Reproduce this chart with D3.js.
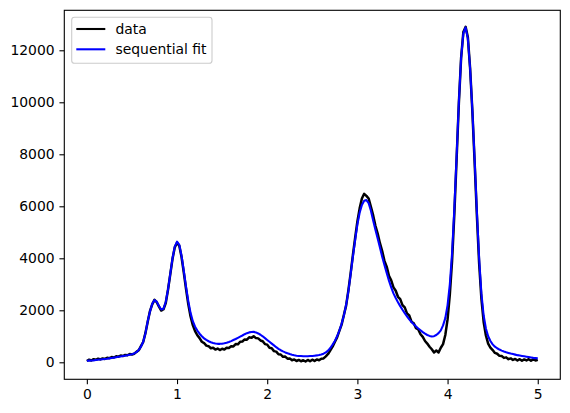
<!DOCTYPE html>
<html>
<head>
<meta charset="utf-8">
<script src="https://cdn.jsdelivr.net/npm/d3@7"></script>
<style>
body { margin:0; background:#fff; }
text { font-family:"DejaVu Sans", sans-serif; }
</style>
</head>
<body>
<script>
// x positions shared by both series (step 0.025, 0 to 5)
const xValues = d3.range(201).map(function(i){ return +(i*0.025).toFixed(3); });

const dataValues = [
50,100,70,120,95,140,110,150,130,175,160,200,185,230,215,260,240,285,270,320,
300,330,400,460,620,780,1130,1560,1970,2230,2400,2310,2140,1990,2040,2280,2790,3380,3980,4420,
4600,4480,4050,3450,2820,2230,1760,1430,1200,1040,930,790,740,640,620,540,560,490,530,470,
520,490,560,550,620,610,700,690,790,800,880,870,960,940,1000,930,920,840,810,700,
680,560,540,430,410,310,300,210,220,140,150,80,110,50,90,40,80,30,90,40,
100,50,110,80,140,150,230,320,460,600,780,960,1210,1450,1820,2180,2760,3420,4120,4780,
5420,5920,6300,6480,6400,6300,5980,5650,5250,4950,4580,4280,3900,3680,3330,3150,2880,2750,2520,2430,
2200,2110,1880,1800,1560,1500,1310,1260,1080,980,820,720,600,500,380,450,380,560,700,1050,
1650,2600,3900,5700,7800,9950,11700,12700,12900,12500,11300,9650,7700,5650,3800,2450,1550,1030,720,560,
470,360,330,250,240,170,190,120,150,90,130,70,120,60,110,70,120,60,110,70,
100
];

// sequential fit curve
const fitValues = [
60,65,70,75,85,95,105,115,125,135,150,165,180,195,210,225,240,255,270,290,
310,340,390,470,600,790,1120,1580,1950,2250,2390,2330,2160,2030,2060,2320,2800,3400,4000,4450,
4640,4520,4100,3520,2900,2350,1900,1580,1370,1220,1100,1000,920,860,810,770,740,720,710,710,
715,730,750,780,815,855,895,940,985,1030,1080,1120,1150,1165,1170,1150,1110,1060,1000,930,
860,790,720,650,580,520,465,420,380,345,315,290,270,255,245,240,235,235,235,240,
245,255,265,280,300,330,380,450,550,680,820,1000,1220,1480,1800,2200,2730,3380,4060,4700,
5300,5750,6050,6210,6240,6120,5830,5450,5100,4760,4420,4060,3740,3440,3140,2880,2650,2470,2310,2160,
2020,1890,1770,1650,1550,1460,1380,1300,1230,1160,1100,1050,1015,995,1005,1050,1120,1230,1420,1700,
2200,3000,4200,5900,7900,10000,11700,12650,12880,12450,11300,9700,7800,5800,4000,2650,1800,1300,1000,820,
690,600,540,490,450,415,385,360,335,315,295,275,260,245,230,215,200,185,170,160,
150
];

const xTicks = [0,1,2,3,4,5];
const yTicks = [0,2000,4000,6000,8000,10000,12000];
const seriesNames = ["data","sequential fit"];
const seriesColors = ["#000000","#0000ff"];

const width = 570;
const height = 413;
const plot = {left:64.3, top:10.3, right:560.3, bottom:379.3};
const fontSize = "13.9px";

const svg = d3.select("body")
.append("svg")
.attr("width", width)
.attr("height", height);

const xScale = d3.scaleLinear()
.domain([-0.25, 5.25])
.range([plot.left, plot.right]);

const yScale = d3.scaleLinear()
.domain([-654, 13538])
.range([plot.bottom, plot.top]);

svg.append("clipPath")
.attr("id","plotclip")
.append("rect")
.attr("x", plot.left)
.attr("y", plot.top)
.attr("width", plot.right - plot.left)
.attr("height", plot.bottom - plot.top);

const line = d3.line()
.x(function(d){ return xScale(d[0]); })
.y(function(d){ return yScale(d[1]); });

const series = [dataValues, fitValues];
const strokeWidths = [2.5, 2.08];

series.forEach(function(vals, k){
  svg.append("path")
  .datum(xValues.map(function(x,i){ return [x, vals[i]]; }))
  .attr("clip-path","url(#plotclip)")
  .attr("fill","none")
  .attr("stroke", seriesColors[k])
  .attr("stroke-width", strokeWidths[k])
  .attr("stroke-linejoin","round")
  .attr("d", line);
});

// axes
const xAxis = d3.axisBottom(xScale)
.tickValues(xTicks)
.tickSize(4.86)
.tickPadding(4.86)
.tickFormat(d3.format("d"));

const yAxis = d3.axisLeft(yScale)
.tickValues(yTicks)
.tickSize(4.86)
.tickPadding(4.86)
.tickFormat(d3.format("d"));

const gx = svg.append("g")
.attr("transform","translate(0,"+plot.bottom+")")
.call(xAxis);

const gy = svg.append("g")
.attr("transform","translate("+plot.left+",0)")
.call(yAxis);

[gx, gy].forEach(function(g){
  g.select(".domain").remove();
  g.selectAll(".tick line").attr("stroke","#000").attr("stroke-width",1.1);
  g.selectAll(".tick text")
  .attr("fill","#000")
  .attr("font-size",fontSize)
  .attr("font-family","DejaVu Sans, sans-serif");
});

// frame
svg.append("rect")
.attr("x", plot.left)
.attr("y", plot.top)
.attr("width", plot.right - plot.left)
.attr("height", plot.bottom - plot.top)
.attr("fill","none")
.attr("stroke","#000")
.attr("stroke-width",1.1);

// legend
const legend = svg.append("g");

legend.append("rect")
.attr("x",71.7)
.attr("y",17.3)
.attr("width",140.3)
.attr("height",46)
.attr("rx",2.8)
.attr("fill","#fff")
.attr("fill-opacity",0.8)
.attr("stroke","#cccccc")
.attr("stroke-width",1.1);

seriesNames.forEach(function(name, i){
  const yy = 29 + i*20.3;
  legend.append("line")
  .attr("x1",76.3)
  .attr("x2",105.3)
  .attr("y1",yy)
  .attr("y2",yy)
  .attr("stroke",seriesColors[i])
  .attr("stroke-width",2.08);
  legend.append("text")
  .attr("x",115.5)
  .attr("y",yy + 5)
  .attr("font-size",fontSize)
  .attr("fill","#000")
  .text(name);
});
</script>
</body>
</html>
